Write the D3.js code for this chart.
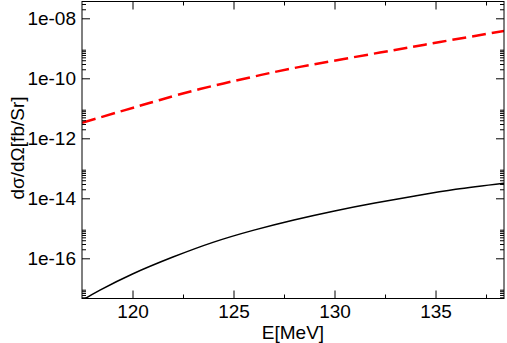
<!DOCTYPE html>
<html>
<head>
<meta charset="utf-8">
<script src="https://cdn.jsdelivr.net/npm/d3@7"></script>
<style>
  body { margin: 0; background: #fff; }
  svg text { font-family: "Liberation Sans", Arial, Helvetica, sans-serif; }
</style>
</head>
<body>
<svg id="chart" width="507" height="343"></svg>
<script>
// values
let redE = [117.5, 119.63, 121.36, 123.34, 125.82, 128.29, 132.25, 135.22, 138.39];
let redVal = [3.3e-12, 8.7e-12, 1.9e-11, 4.4e-11, 1.07e-10, 2.4e-10, 7.2e-10, 1.62e-9, 3.8e-9];

let blackE = [117.67, 118.39, 120.0, 122.0, 123.98, 126.01, 127.99, 130.0, 132.0, 133.98, 136.0, 138.39];
let blackVal = [4.6e-18, 8.7e-18, 3.0e-17, 1.1e-16, 3.4e-16, 8.7e-16, 1.9e-15, 3.8e-15, 7.0e-15, 1.2e-14, 2.0e-14, 3.2e-14];

let xTicks = [120, 125, 130, 135];
let xMinor = [122.5, 127.5, 132.5, 137.5];
let yTicks = [1e-8, 1e-10, 1e-12, 1e-14, 1e-16];
let yTickLabels = ["1e-08", "1e-10", "1e-12", "1e-14", "1e-16"];

let svg = d3.select('#chart');
let pLeft = 82, pRight = 504, pTop = 1.5, pBottom = 298.5;

let x = d3.scaleLinear().domain([117.5, 138.39]).range([pLeft, pRight]);
let y = d3.scaleLog().domain([Math.pow(10, -17.34), Math.pow(10, -7.44)]).range([pBottom, pTop]);

// minor log ticks: 2..9 times every other decade
let yMinor = [];
[-18, -16, -14, -12, -10, -8].forEach(function(e) {
    for (let k = 2; k <= 9; k++) {
        let v = k * Math.pow(10, e);
        if (y(v) > pTop && y(v) < pBottom) yMinor.push(v);
    }
});

svg.append('clipPath').attr('id', 'clip')
   .append('rect').attr('x', pLeft).attr('y', pTop)
   .attr('width', pRight - pLeft).attr('height', pBottom - pTop);

// curves
let line = d3.line().curve(d3.curveNatural);

svg.append('path')
   .attr('clip-path', 'url(#clip)')
   .attr('d', line(blackE.map(function(e, i) { return [x(e), y(blackVal[i])]; })))
   .attr('fill', 'none').attr('stroke', '#000').attr('stroke-width', 1.5);

svg.append('path')
   .attr('clip-path', 'url(#clip)')
   .attr('d', line(redE.map(function(e, i) { return [x(e), y(redVal[i])]; })))
   .attr('fill', 'none').attr('stroke', '#ff0000').attr('stroke-width', 2.5)
   .attr('stroke-dasharray', '14,6');

// axes with inward ticks, mirrored on all sides
function styleAxis(g) {
    g.select('.domain').remove();
    g.selectAll('line').attr('stroke', '#000');
    g.selectAll('text').attr('font-size', 19).attr('fill', '#000')
     .attr('font-family', '"Liberation Sans", Arial, sans-serif');
}

svg.append('g').attr('transform', 'translate(0,' + pBottom + ')')
   .call(d3.axisBottom(x).tickValues(xTicks).tickSize(-8).tickPadding(6).tickFormat(d3.format('d')))
   .call(styleAxis);
svg.append('g').attr('transform', 'translate(0,' + pBottom + ')')
   .call(d3.axisBottom(x).tickValues(xMinor).tickSize(-4).tickFormat(''))
   .call(styleAxis);
svg.append('g').attr('transform', 'translate(0,' + pTop + ')')
   .call(d3.axisTop(x).tickValues(xTicks).tickSize(-8).tickFormat(''))
   .call(styleAxis);
svg.append('g').attr('transform', 'translate(0,' + pTop + ')')
   .call(d3.axisTop(x).tickValues(xMinor).tickSize(-4).tickFormat(''))
   .call(styleAxis);

svg.append('g').attr('transform', 'translate(' + pLeft + ',0)')
   .call(d3.axisLeft(y).tickValues(yTicks).tickSize(-8).tickPadding(6)
         .tickFormat(function(d, i) { return yTickLabels[i]; }))
   .call(styleAxis);
svg.append('g').attr('transform', 'translate(' + pLeft + ',0)')
   .call(d3.axisLeft(y).tickValues(yMinor).tickSize(-4).tickFormat(''))
   .call(styleAxis);
svg.append('g').attr('transform', 'translate(' + pRight + ',0)')
   .call(d3.axisRight(y).tickValues(yTicks).tickSize(-8).tickFormat(''))
   .call(styleAxis);
svg.append('g').attr('transform', 'translate(' + pRight + ',0)')
   .call(d3.axisRight(y).tickValues(yMinor).tickSize(-4).tickFormat(''))
   .call(styleAxis);

// frame
svg.append('rect')
   .attr('x', pLeft).attr('y', pTop)
   .attr('width', pRight - pLeft).attr('height', pBottom - pTop)
   .attr('fill', 'none').attr('stroke', '#000').attr('stroke-width', 1);

// titles
svg.append('text')
   .attr('x', (pLeft + pRight) / 2).attr('y', 339)
   .attr('text-anchor', 'middle').attr('font-size', 19)
   .text('E[MeV]');

svg.append('text')
   .attr('transform', 'translate(24,148) rotate(-90)')
   .attr('text-anchor', 'middle').attr('font-size', 19)
   .text('dσ/dΩ[fb/Sr]');
</script>
</body>
</html>
